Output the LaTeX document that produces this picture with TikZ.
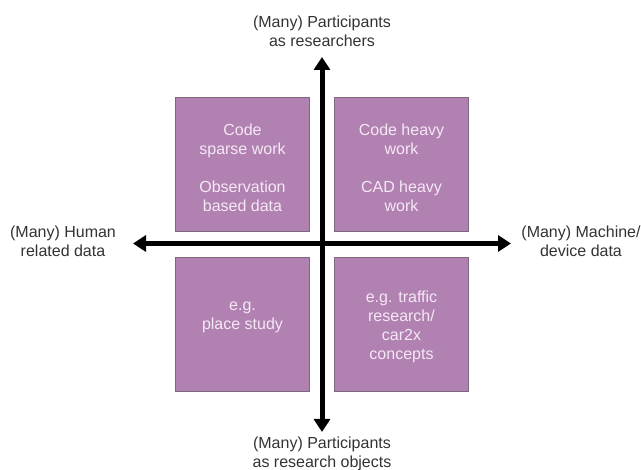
\documentclass[tikz,border=0pt]{standalone}
\usepackage{fontspec}
\setmainfont{Liberation Sans}
\usetikzlibrary{arrows.meta}
\definecolor{boxfill}{RGB}{177,129,178}
\definecolor{boxline}{RGB}{125,105,125}
\definecolor{boxtext}{RGB}{245,232,245}
\tikzset{
  quad/.style={draw=boxline, line width=0.8pt, fill=boxfill, minimum width=134pt, minimum height=134pt, inner sep=0pt},
  quadtext/.style={text=boxtext, align=center, font=\fontsize{16}{19}\selectfont, inner sep=0pt},
  axislabel/.style={align=center, text=black!80, font=\fontsize{16}{19}\selectfont},
  axis/.style={line width=5pt, -{Triangle[length=13pt,width=16pt]}, black}
}
\begin{document}
\begin{tikzpicture}[x=1pt,y=-1pt]
\useasboundingbox (0,0) rectangle (641,470);
\node[quad] (tl) at (242.5,164.5) {};
\node[quad] (tr) at (401.5,164.5) {};
\node[quad] (bl) at (242.5,324) {};
\node[quad] (br) at (401.5,324) {};
\node[quadtext] (tlt) at ([yshift=-3pt]tl.center) {Code\\sparse work\\[19pt]Observation\\based data};
\node[quadtext] (trt) at ([yshift=-3pt]tr.center) {Code heavy\\work\\[19pt]CAD heavy\\work};
\node[quadtext] (blt) at ([yshift=6.5pt]bl.center) {e.g.\\place study};
\node[quadtext] (brt) at ([yshift=-2.5pt]br.center) {e.g. traffic\\research/\\car2x\\concepts};
\coordinate (c) at (322,243.5);
\coordinate (up) at (322,57);
\coordinate (down) at (322,432);
\coordinate (left) at (133,243.5);
\coordinate (right) at (511,243.5);
\draw[axis] (c) -- (up);
\draw[axis] (c) -- (down);
\draw[axis] (c) -- (left);
\draw[axis] (c) -- (right);
\node[axislabel] (top) at (322,31) {(Many) Participants\\as researchers};
\node[axislabel] (bot) at (322,454) {(Many) Participants\\as research objects};
\node[axislabel] (lft) at (63,241) {(Many) Human\\related data};
\node[axislabel] (rgt) at (581,241) {(Many) Machine/\\device data};
\end{tikzpicture}
\end{document}
